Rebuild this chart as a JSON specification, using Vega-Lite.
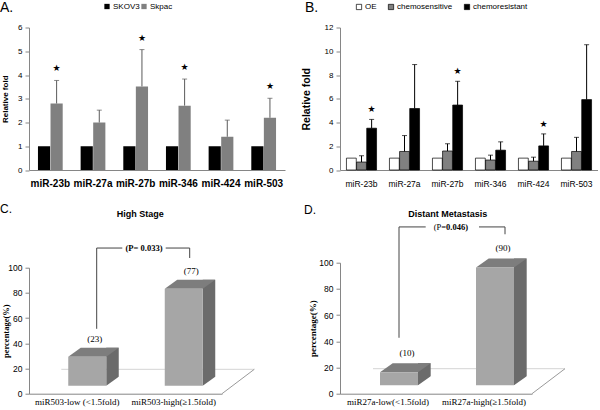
{
  "$schema": "https://vega.github.io/schema/vega-lite/v6.json",
  "padding": {"left": 0, "top": 0.5, "right": 0, "bottom": 0},
  "background": "white",
  "bounds": "flush",
  "columns": 2,
  "spacing": {"row": 92.2, "column": 55},
  "resolve": {"scale": {"x": "independent", "y": "independent", "color": "independent", "xOffset": "independent"}, "axis": {"x": "independent", "y": "independent"}, "legend": {"color": "independent"}},
  "config": {
    "view": {"stroke": null},
    "axis": {"domainColor": "#868686", "tickColor": "#868686", "grid": false, "labelColor": "#000000", "titleColor": "#000000", "labelFont": "Liberation Sans", "titleFont": "Liberation Sans"},
    "legend": {"labelFont": "Liberation Sans", "labelFontSize": 8, "labelColor": "#000000", "symbolType": "square", "symbolSize": 28, "padding": 0, "labelOffset": 2},
    "title": {"font": "Liberation Sans", "color": "#000000", "fontWeight": "normal"}
  },
  "datasets": {
    "dA": [
      {"mir": "miR-23b", "series": "SKOV3", "value": 1},
      {"mir": "miR-23b", "series": "Skpac", "value": 2.8, "err": 3.77, "star": true},
      {"mir": "miR-27a", "series": "SKOV3", "value": 1},
      {"mir": "miR-27a", "series": "Skpac", "value": 2.0, "err": 2.52},
      {"mir": "miR-27b", "series": "SKOV3", "value": 1},
      {"mir": "miR-27b", "series": "Skpac", "value": 3.52, "err": 5.07, "star": true},
      {"mir": "miR-346", "series": "SKOV3", "value": 1},
      {"mir": "miR-346", "series": "Skpac", "value": 2.71, "err": 3.83, "star": true},
      {"mir": "miR-424", "series": "SKOV3", "value": 1},
      {"mir": "miR-424", "series": "Skpac", "value": 1.4, "err": 2.1},
      {"mir": "miR-503", "series": "SKOV3", "value": 1},
      {"mir": "miR-503", "series": "Skpac", "value": 2.2, "err": 3.02, "star": true}
    ],
    "dB": [
      {"mir": "miR-23b", "series": "OE", "value": 1},
      {"mir": "miR-23b", "series": "chemosensitive", "value": 0.67, "err": 1.2},
      {"mir": "miR-23b", "series": "chemoresistant", "value": 3.52, "err": 4.26, "star": true},
      {"mir": "miR-27a", "series": "OE", "value": 1},
      {"mir": "miR-27a", "series": "chemosensitive", "value": 1.56, "err": 2.9},
      {"mir": "miR-27a", "series": "chemoresistant", "value": 5.18, "err": 8.88},
      {"mir": "miR-27b", "series": "OE", "value": 1},
      {"mir": "miR-27b", "series": "chemosensitive", "value": 1.6, "err": 2.21},
      {"mir": "miR-27b", "series": "chemoresistant", "value": 5.47, "err": 7.47, "star": true},
      {"mir": "miR-346", "series": "OE", "value": 1},
      {"mir": "miR-346", "series": "chemosensitive", "value": 0.84, "err": 1.25},
      {"mir": "miR-346", "series": "chemoresistant", "value": 1.67, "err": 2.37},
      {"mir": "miR-424", "series": "OE", "value": 1},
      {"mir": "miR-424", "series": "chemosensitive", "value": 0.74, "err": 1.08},
      {"mir": "miR-424", "series": "chemoresistant", "value": 2.03, "err": 3.04, "star": true},
      {"mir": "miR-503", "series": "OE", "value": 1},
      {"mir": "miR-503", "series": "chemosensitive", "value": 1.56, "err": 2.75},
      {"mir": "miR-503", "series": "chemoresistant", "value": 5.93, "err": 10.55}
    ],
    "dC": [
      {"group": "miR503-low (<1.5fold)", "pct": 23},
      {"group": "miR503-high(≥1.5fold)", "pct": 77}
    ],
    "dD": [
      {"group": "miR27a-low(<1.5fold)", "pct": 10},
      {"group": "miR27a-high(≥1.5fold)", "pct": 90}
    ]
  },
  "concat": [
    {
      "width": 256, "height": 142.5,
      "title": {"text": "A.", "anchor": "start", "frame": "group", "dx": -29, "dy": 16, "fontSize": 14},
      "data": {"name": "dA"},
      "encoding": {
        "x": {"field": "mir", "type": "nominal", "sort": null, "scale": {"paddingInner": 0.42, "paddingOuter": 0.21}, "axis": {"title": null, "labelAngle": 0, "ticks": false, "labelFontWeight": "bold", "labelFontSize": 10, "labelPadding": 8}},
        "xOffset": {"field": "series", "type": "nominal", "sort": ["SKOV3", "Skpac"], "scale": {"paddingInner": 0.03}},
        "y": {"field": "value", "type": "quantitative", "stack": null, "scale": {"domain": [0, 6]}, "axis": {"title": "Relative fold", "values": [0, 1, 2, 3, 4, 5, 6], "tickSize": 4, "labelFontSize": 8, "labelPadding": 3, "titleFontSize": 8, "titleFontWeight": "bold", "titlePadding": 8}}
      },
      "layer": [
        {"mark": {"type": "bar"}, "encoding": {"color": {"field": "series", "type": "nominal", "scale": {"domain": ["SKOV3", "Skpac"], "range": ["#000000", "#808080"]}, "legend": {"title": null, "orient": "none", "legendX": 74, "legendY": -25, "direction": "horizontal", "columnPadding": 0}}}},
        {"transform": [{"filter": "isValid(datum.err)"}], "mark": {"type": "rule", "color": "#5a5a5a"}, "encoding": {"y2": {"field": "err"}}},
        {"transform": [{"filter": "isValid(datum.err)"}], "mark": {"type": "tick", "color": "#5a5a5a", "size": 5, "thickness": 1, "orient": "horizontal"}, "encoding": {"y": {"field": "err", "type": "quantitative"}}},
        {"transform": [{"filter": "datum.star === true"}], "mark": {"type": "text", "text": "★", "dy": -12, "fontSize": 9, "font": "DejaVu Sans", "color": "#000000"}, "encoding": {"y": {"field": "err", "type": "quantitative"}}}
      ]
    },
    {
      "width": 258, "height": 142.5,
      "title": {"text": "B.", "anchor": "start", "frame": "group", "dx": -35, "dy": 16, "fontSize": 14},
      "data": {"name": "dB"},
      "encoding": {
        "x": {"field": "mir", "type": "nominal", "sort": null, "scale": {"paddingInner": 0.3, "paddingOuter": 0.15}, "axis": {"title": null, "labelAngle": 0, "ticks": false, "labelFont": "Liberation Sans Narrow, Liberation Sans", "labelFontSize": 8.5, "labelPadding": 9}},
        "xOffset": {"field": "series", "type": "nominal", "sort": ["OE", "chemosensitive", "chemoresistant"], "scale": {"paddingInner": 0.03}},
        "y": {"field": "value", "type": "quantitative", "stack": null, "scale": {"domain": [0, 12]}, "axis": {"title": "Relative fold", "values": [0, 2, 4, 6, 8, 10, 12], "tickSize": 4, "labelFontSize": 8, "labelPadding": 3, "titleFontSize": 10.5, "titleFontWeight": "bold", "titlePadding": 13}}
      },
      "layer": [
        {"mark": {"type": "bar", "stroke": "#000000", "strokeWidth": 0.7}, "encoding": {"color": {"field": "series", "type": "nominal", "scale": {"domain": ["OE", "chemosensitive", "chemoresistant"], "range": ["#ffffff", "#808080", "#000000"]}, "legend": {"title": null, "orient": "none", "legendX": 15, "legendY": -25, "direction": "horizontal", "columnPadding": 9, "symbolStrokeColor": "#000000", "symbolStrokeWidth": 0.7}}}},
        {"transform": [{"filter": "isValid(datum.err)"}], "mark": {"type": "rule", "color": "#000000"}, "encoding": {"y2": {"field": "err"}}},
        {"transform": [{"filter": "isValid(datum.err)"}], "mark": {"type": "tick", "color": "#000000", "size": 5, "thickness": 1, "orient": "horizontal"}, "encoding": {"y": {"field": "err", "type": "quantitative"}}},
        {"transform": [{"filter": "datum.star === true"}], "mark": {"type": "text", "text": "★", "dy": -10, "fontSize": 9, "font": "DejaVu Sans", "color": "#000000"}, "encoding": {"y": {"field": "err", "type": "quantitative"}}}
      ]
    },
    {
      "width": 193, "height": 131,
      "data": {"name": "dC"},
      "encoding": {
        "x": {"field": "group", "type": "nominal", "sort": null, "scale": {"domain": ["miR503-low (<1.5fold)", "miR503-high(≥1.5fold)"], "paddingInner": 0, "paddingOuter": 0}, "axis": {"title": null, "labelAngle": 0, "ticks": false, "labelFont": "Liberation Serif", "labelFontSize": 9, "labelPadding": 4}},
        "y": {"field": "pct", "type": "quantitative", "stack": null, "scale": {"domain": [0, 100], "range": [131, 5]}, "axis": {"title": "percentage(%)", "values": [0, 20, 40, 60, 80, 100], "tickSize": 4, "labelFontSize": 8.5, "labelPadding": 3, "titleFont": "Liberation Serif", "titleFontWeight": "bold", "titleFontSize": 8.5, "titlePadding": -3}}
      },
      "layer": [
        {"transform": [{"filter": "datum.pct > 50"}], "mark": {"type": "point", "shape": "M -112.45 -24.4 L 80.55 -24.4", "size": 4, "filled": false, "color": "#d4d4d4", "strokeWidth": 1, "opacity": 1}, "encoding": {"y": {"datum": 0}}},
        {"transform": [{"filter": "datum.pct > 50"}], "mark": {"type": "point", "shape": "M 48.25 0 L 80.55 -24.4", "size": 4, "filled": false, "color": "#9a9a9a", "strokeWidth": 1, "opacity": 1}, "encoding": {"y": {"datum": 0}}},
        {"mark": {"type": "bar", "width": 12.5, "xOffset": 35.25, "yOffset": -17, "y2Offset": -8, "color": "#6b6b6b"}, "encoding": {"y2": {"datum": 0}}},
        {"mark": {"type": "point", "shape": "M -19 0 L 19 0 L 31.5 -9 L -6.5 -9 Z", "size": 4, "filled": true, "color": "#7d7d7d", "strokeWidth": 0, "opacity": 1, "xOffset": 10, "yOffset": -8}},
        {"mark": {"type": "point", "shape": "M 19 0 L 31.5 -9 L 32.5 -9 L 32.5 1 L 19 1 Z", "size": 4, "filled": true, "color": "#ffffff", "strokeWidth": 0, "opacity": 1, "xOffset": 10, "yOffset": -8}, "encoding": {"y": {"datum": 0}}},
        {"mark": {"type": "bar", "width": 38, "xOffset": 10, "yOffset": -8, "y2Offset": -8, "color": "#a6a6a6"}, "encoding": {"y2": {"datum": 0}}},
        {"transform": [{"calculate": "'(' + datum.pct + ')'", "as": "lbl"}], "mark": {"type": "text", "dx": 17.5, "dy": -26, "font": "Liberation Serif", "fontSize": 9, "color": "#000000"}, "encoding": {"text": {"field": "lbl"}}},
        {"transform": [{"filter": "datum.pct < 50"}], "mark": {"type": "rule", "xOffset": 19.45, "color": "#444444"}, "encoding": {"y": {"datum": 115.6}, "y2": {"datum": 51.5}}},
        {"transform": [{"filter": "datum.pct < 50"}], "mark": {"type": "point", "shape": "M 0 0 L 25.6 0", "size": 4, "filled": false, "xOffset": 19.45, "color": "#444444", "strokeWidth": 1, "opacity": 1}, "encoding": {"y": {"datum": 115.6}}},
        {"transform": [{"filter": "datum.pct > 50"}], "mark": {"type": "point", "shape": "M 0 0 L 24 0", "size": 4, "filled": false, "xOffset": -8.05, "color": "#444444", "strokeWidth": 1, "opacity": 1}, "encoding": {"y": {"datum": 115.6}}},
        {"transform": [{"filter": "datum.pct > 50"}], "mark": {"type": "rule", "xOffset": 15.95, "color": "#444444"}, "encoding": {"y": {"datum": 115.6}, "y2": {"datum": 107.7}}},
        {"transform": [{"filter": "datum.pct < 50"}], "mark": {"type": "text", "text": "(P= 0.033)", "xOffset": 66.75, "font": "Liberation Serif", "fontWeight": "bold", "fontSize": 8.5, "color": "#000000"}, "encoding": {"y": {"datum": 115.6}}},
        {"transform": [{"filter": "datum.pct < 50"}], "mark": {"type": "text", "text": "High Stage", "xOffset": 63.05, "font": "Liberation Sans", "fontWeight": "bold", "fontSize": 9, "color": "#000000"}, "encoding": {"y": {"datum": 142.9}}},
        {"transform": [{"filter": "datum.pct < 50"}], "mark": {"type": "text", "text": "C.", "align": "left", "xOffset": -77.25, "font": "Liberation Sans", "fontSize": 12, "color": "#000000"}, "encoding": {"y": {"datum": 146.2}}}
      ]
    },
    {
      "width": 192, "height": 131,
      "data": {"name": "dD"},
      "encoding": {
        "x": {"field": "group", "type": "nominal", "sort": null, "scale": {"domain": ["miR27a-low(<1.5fold)", "miR27a-high(≥1.5fold)"], "paddingInner": 0, "paddingOuter": 0}, "axis": {"title": null, "labelAngle": 0, "ticks": false, "labelFont": "Liberation Serif", "labelFontSize": 9, "labelPadding": 4}},
        "y": {"field": "pct", "type": "quantitative", "stack": null, "scale": {"domain": [0, 100]}, "axis": {"title": "percentage(%)", "values": [0, 20, 40, 60, 80, 100], "tickSize": 4, "labelFontSize": 8.5, "labelPadding": 3, "titleFont": "Liberation Serif", "titleFontWeight": "bold", "titleFontSize": 9, "titlePadding": 1}}
      },
      "layer": [
        {"transform": [{"filter": "datum.pct > 50"}], "mark": {"type": "point", "shape": "M -111 -25 L 81 -25", "size": 4, "filled": false, "color": "#d4d4d4", "strokeWidth": 1, "opacity": 1}, "encoding": {"y": {"datum": 0}}},
        {"transform": [{"filter": "datum.pct > 50"}], "mark": {"type": "point", "shape": "M 48 0 L 81 -25", "size": 4, "filled": false, "color": "#9a9a9a", "strokeWidth": 1, "opacity": 1}, "encoding": {"y": {"datum": 0}}},
        {"mark": {"type": "bar", "width": 12.7, "xOffset": 36.35, "yOffset": -17.4, "y2Offset": -8.4, "color": "#6b6b6b"}, "encoding": {"y2": {"datum": 0}}},
        {"mark": {"type": "point", "shape": "M -19 0 L 19 0 L 31.7 -9 L -6.3 -9 Z", "size": 4, "filled": true, "color": "#7d7d7d", "strokeWidth": 0, "opacity": 1, "xOffset": 11, "yOffset": -8.4}},
        {"mark": {"type": "point", "shape": "M 19 0 L 31.7 -9 L 32.7 -9 L 32.7 1 L 19 1 Z", "size": 4, "filled": true, "color": "#ffffff", "strokeWidth": 0, "opacity": 1, "xOffset": 11, "yOffset": -8.4}, "encoding": {"y": {"datum": 0}}},
        {"mark": {"type": "bar", "width": 38, "xOffset": 11, "yOffset": -8.4, "y2Offset": -8.4, "color": "#a6a6a6"}, "encoding": {"y2": {"datum": 0}}},
        {"transform": [{"calculate": "'(' + datum.pct + ')'", "as": "lbl"}], "mark": {"type": "text", "dx": 19, "dy": -27.7, "font": "Liberation Serif", "fontSize": 9, "color": "#000000"}, "encoding": {"text": {"field": "lbl"}}},
        {"transform": [{"filter": "datum.pct < 50"}], "mark": {"type": "rule", "xOffset": 11, "color": "#444444"}, "encoding": {"y": {"datum": 127.3}, "y2": {"datum": 42.7}}},
        {"transform": [{"filter": "datum.pct < 50"}], "mark": {"type": "point", "shape": "M 0 0 L 26.7 0", "size": 4, "filled": false, "xOffset": 11, "color": "#444444", "strokeWidth": 1, "opacity": 1}, "encoding": {"y": {"datum": 127.3}}},
        {"transform": [{"filter": "datum.pct > 50"}], "mark": {"type": "point", "shape": "M 0 0 L 26 0", "size": 4, "filled": false, "xOffset": -5, "color": "#444444", "strokeWidth": 1, "opacity": 1}, "encoding": {"y": {"datum": 127.3}}},
        {"transform": [{"filter": "datum.pct > 50"}], "mark": {"type": "rule", "xOffset": 21, "color": "#444444"}, "encoding": {"y": {"datum": 127.3}, "y2": {"datum": 121.7}}},
        {"transform": [{"filter": "datum.pct < 50"}], "mark": {"type": "text", "text": "(P=", "align": "right", "xOffset": 58, "font": "Liberation Serif", "fontSize": 8.5, "color": "#000000"}, "encoding": {"y": {"datum": 127.3}}},
        {"transform": [{"filter": "datum.pct < 50"}], "mark": {"type": "text", "text": "0.046)", "align": "left", "xOffset": 58, "font": "Liberation Serif", "fontWeight": "bold", "fontSize": 8.5, "color": "#000000"}, "encoding": {"y": {"datum": 127.3}}},
        {"transform": [{"filter": "datum.pct < 50"}], "mark": {"type": "text", "text": "Distant  Metastasis", "xOffset": 59.8, "font": "Liberation Sans", "fontWeight": "bold", "fontSize": 9, "color": "#000000"}, "encoding": {"y": {"datum": 137.4}}},
        {"transform": [{"filter": "datum.pct < 50"}], "mark": {"type": "text", "text": "D.", "align": "left", "xOffset": -84, "font": "Liberation Sans", "fontSize": 12, "color": "#000000"}, "encoding": {"y": {"datum": 140}}}
      ]
    }
  ]
}
